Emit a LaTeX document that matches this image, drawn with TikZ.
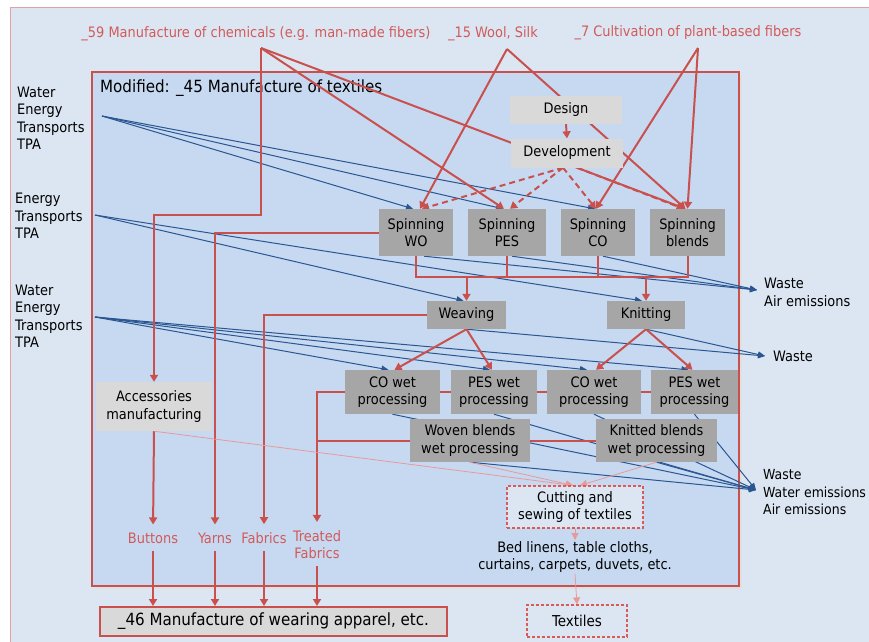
\documentclass[tikz,border=0pt]{standalone}
\usepackage{fontspec}
\setmainfont{DejaVu Sans Condensed}
\usetikzlibrary{arrows.meta,calc}
\definecolor{bgout}{HTML}{DCE6F2}
\definecolor{bgin}{HTML}{C6D9F1}
\definecolor{framered}{HTML}{E3A2A2}
\definecolor{myred}{HTML}{C9504D}
\definecolor{dashred}{HTML}{DB5A57}
\definecolor{redtxt}{HTML}{D25A5A}
\definecolor{myblue}{HTML}{2A5692}
\definecolor{mypink}{HTML}{E89A9A}
\definecolor{dgray}{HTML}{A6A6A6}
\definecolor{lgray}{HTML}{D9D9D9}
\pgfdeclarelayer{back}
\pgfdeclarelayer{lines}
\pgfsetlayers{back,lines,main}
\begin{document}
\begin{tikzpicture}[x=1pt,y=-1pt,
  font=\fontsize{14.4}{17.5}\selectfont,
  box/.style={fill=dgray, align=center, inner sep=0pt},
  lbox/.style={fill=lgray, align=center, inner sep=0pt},
  rl/.style={draw=myred, line width=2pt},
  ra/.style={rl, -{Triangle[length=7pt,width=8pt]}},
  da/.style={ra, dash pattern=on 6pt off 4pt},
  bl/.style={draw=myblue, line width=1pt, -{Triangle[length=7pt,width=6pt]}},
  pa/.style={draw=mypink, line width=0.8pt, -{Triangle[length=7pt,width=7pt]}},
  rlab/.style={text=redtxt, align=center, inner sep=1pt},
  blab/.style={align=left, anchor=west, inner sep=0pt},
  dbox/.style={fill=bgout, draw=dashred, dash pattern=on 3pt off 2pt, line width=1.2pt, align=center, inner sep=0pt},
  tolab/.style={shorten >=7pt},
  fromlab/.style={shorten <=6pt},
]
\useasboundingbox (0,0) rectangle (869,641);

% ---------- nodes ----------
\node[lbox, minimum width=112pt, minimum height=28pt] (design) at (566,110) {Design};
\node[lbox, minimum width=112pt, minimum height=29pt] (devel) at (567,153) {Development};
\node[box, minimum width=74pt, minimum height=47pt] (spinWO) at (416,232.5) {Spinning\\WO};
\node[box, minimum width=78pt, minimum height=47pt] (spinPES) at (507,232.5) {Spinning\\PES};
\node[box, minimum width=74pt, minimum height=47pt] (spinCO) at (598,232.5) {Spinning\\CO};
\node[box, minimum width=75pt, minimum height=47pt] (spinBl) at (687.5,232.5) {Spinning\\blends};
\node[box, minimum width=79pt, minimum height=28pt] (weaving) at (466.5,315) {Weaving};
\node[box, minimum width=78pt, minimum height=28pt] (knitting) at (646,315) {Knitting};
\node[box, minimum width=95pt, minimum height=44pt] (cow1) at (392.5,392) {CO wet\\processing};
\node[box, minimum width=86pt, minimum height=44pt] (pesw1) at (494,392) {PES wet\\processing};
\node[box, minimum width=94pt, minimum height=44pt] (cow2) at (594,392) {CO wet\\processing};
\node[box, minimum width=87pt, minimum height=44pt] (pesw2) at (694.5,392) {PES wet\\processing};
\node[box, minimum width=120pt, minimum height=43pt] (woven) at (470,440.5) {Woven blends\\wet processing};
\node[box, minimum width=121pt, minimum height=43pt] (knitted) at (656.5,440.5) {Knitted blends\\wet processing};
\node[lbox, minimum width=116pt, minimum height=49pt] (access) at (154,406.5) {Accessories\\manufacturing};
\node[dbox, minimum width=136pt, minimum height=42pt] (cutting) at (575,507) {Cutting and\\sewing of textiles};
\node[align=center, inner sep=1pt] (bed) at (575,557) {Bed linens, table cloths,\\curtains, carpets, duvets, etc.};
\node[dbox, minimum width=100pt, minimum height=32pt, font=\fontsize{15}{18}\selectfont] (textiles) at (577,621) {Textiles};
\node[fill=lgray, draw=myred, line width=2pt, inner sep=0pt,
      minimum width=347pt, minimum height=29pt, font=\fontsize{16.8}{20}\selectfont] (app) at (273.5,621.5) {\_46 Manufacture of wearing apparel, etc.};

% labels
\node[rlab] (l59) at (256,34) {\_59 Manufacture of chemicals (e.g. man-made fibers)};
\node[rlab] (l15) at (493,34) {\_15 Wool, Silk};
\node[rlab] (l7) at (688,33) {\_7 Cultivation of plant-based fibers};
\node[blab] (in1) at (17,118) {Water\\Energy\\Transports\\TPA};
\node[blab] (in2) at (15,216) {Energy\\Transports\\TPA};
\node[blab] (in3) at (15,316) {Water\\Energy\\Transports\\TPA};
\node[blab] (out1) at (764,292.5) {Waste\\Air emissions};
\node[blab] (out2) at (773,356) {Waste};
\node[blab, font=\fontsize{13.9}{17.5}\selectfont] (out3) at (763,492.5) {Waste\\Water emissions\\Air emissions};
\node[rlab] (buttons) at (153,538) {Buttons};
\node[rlab] (yarns) at (215,538) {Yarns};
\node[rlab] (fabrics) at (264,538) {Fabrics};
\node[rlab] (tfab) at (317,544.5) {Treated\\Fabrics};

% connector points
\coordinate (p59) at (261,48);
\coordinate (p15) at (507,49);
\coordinate (p7) at (698,48);
\coordinate (b1) at (102,116);
\coordinate (b2) at (95,215);
\coordinate (b3) at (95,317);
\coordinate (s1) at (757,290);
\coordinate (s2) at (765,356);
\coordinate (s3) at (756,490);
\coordinate (bus) at (0,277);
\coordinate (elbow) at (0,215);

% ---------- backgrounds ----------
\begin{pgfonlayer}{back}
\fill[white] (0,0) rectangle (869,641);
\fill[bgout, draw=framered, line width=0.8pt] (10,7) rectangle (880,660);
\fill[black!12] (95,75) rectangle (742,589);
\fill[bgin, draw=myred, line width=1.2pt] (92,72) rectangle (739,586);
\node[anchor=west, inner sep=0pt, font=\fontsize{16.8}{20}\selectfont] (title) at (100,88) {Modified: \_45 Manufacture of textiles};
\end{pgfonlayer}

% ---------- connectors ----------
\begin{pgfonlayer}{lines}
% blue inputs
\draw[bl] (b1) -- ([xshift=-3pt]spinWO.north);
\draw[bl] (b1) -- ([xshift=-4pt]spinPES.north);
\draw[bl] (b1) -- ([xshift=-3pt]spinCO.north);
\draw[bl] (b2) -- ([xshift=-3pt]weaving.north);
\draw[bl] (b2) -- ([xshift=-4pt]knitting.north);
\draw[bl] (b3) -- ([xshift=-4pt]cow1.north);
\draw[bl] (b3) -- ([xshift=-4pt]pesw1.north);
\draw[bl] (b3) -- ([xshift=-7pt]cow2.north);
\draw[bl] (b3) -- ([xshift=-6pt]pesw2.north);
% blue outputs
\draw[bl] ([xshift=8pt]spinWO.south) -- (s1);
\draw[bl] ([xshift=5pt]spinPES.south) -- (s1);
\draw[bl] ([xshift=5pt]spinCO.south) -- (s1);
\draw[bl] (weaving.south) -- (s2);
\draw[bl] (knitting.south) -- (s2);
\draw[bl] (cow1.south) -- (s3);
\draw[bl] (pesw1.south) -- (s3);
\draw[bl] (cow2.south) -- (s3);
\draw[bl] (pesw2.south) -- (s3);
\draw[bl] (woven.south) -- (s3);
\draw[bl] (knitted.south) -- (s3);

% red inputs from suppliers
\draw[ra] (p59) |- (access.north |- elbow) -- (access.north);
\draw[ra] (p59) -- ([xshift=-3pt]spinPES.north);
\draw[ra] (p59) -- ([xshift=-2pt]spinBl.north);
\draw[ra] (p15) -- ([xshift=4pt]spinWO.north);
\draw[ra] (p15) -- ([xshift=-2pt]spinBl.north);
\draw[ra] (p7) -- ([xshift=-2pt]spinCO.north);
\draw[ra] (p7) -- (spinBl.north);
\draw[ra] (design.south) -- (devel.north);
\draw[da] ([xshift=-4pt]devel.south) -- ([xshift=6pt]spinWO.north);
\draw[da] ([xshift=-4pt]devel.south) -- ([xshift=3pt]spinPES.north);
\draw[da] ([xshift=-4pt]devel.south) -- ([xshift=-2pt]spinCO.north);
\draw[da] ([xshift=10pt]devel.south) -- ([xshift=-4pt]spinBl.north);

% spinning collector
\draw[rl] (spinWO.south) |- (spinBl.south |- bus) -- (spinBl.south);
\draw[rl] (spinPES.south) -- (spinPES.south |- bus);
\draw[rl] (spinCO.south) -- (spinCO.south |- bus);
\draw[ra] (weaving.north |- bus) -- (weaving.north);
\draw[ra] (knitting.north |- bus) -- (knitting.north);

% weaving / knitting to wet processing
\draw[ra] (weaving.south) -- ([xshift=2pt]cow1.north);
\draw[ra] (weaving.south) -- ([xshift=-2pt]pesw1.north);
\draw[ra] (knitting.south) -- ([xshift=2pt]cow2.north);
\draw[ra] (knitting.south) -- ([xshift=-2pt]pesw2.north);

% wet processing links
\draw[rl] (cow1.east) -- (pesw1.west);
\draw[rl] (pesw1.east) -- (cow2.west);
\draw[rl] (cow2.east) -- (pesw2.west);
\draw[rl] (woven.east) -- (knitted.west);

% intermediate products
\draw[ra, tolab] (access.south) -- (buttons.north);
\draw[ra, tolab] (spinWO.west) -| (yarns.north);
\draw[ra, tolab] (weaving.west) -| (fabrics.north);
\draw[ra, tolab] (cow1.west) -| (tfab.north);
\draw[rl] (woven.west) -- (woven.west -| tfab.north);
\draw[ra, fromlab] (buttons.south) -- (buttons.south |- app.north);
\draw[ra, fromlab] (yarns.south) -- (yarns.south |- app.north);
\draw[ra, fromlab] (fabrics.south) -- (fabrics.south |- app.north);
\draw[ra, fromlab] (tfab.south) -- (tfab.south |- app.north);

% thin pink to cutting
\draw[pa] (access.south) -- ([xshift=-2pt]cutting.north);
\draw[pa] (woven.south) -- ([xshift=-2pt]cutting.north);
\draw[pa] (knitted.south) -- ([xshift=5pt]cutting.north);
\draw[pa] (cutting.south) -- (bed.north);
\draw[pa] (bed.south) -- (textiles.north);
\end{pgfonlayer}
\end{tikzpicture}
\end{document}
